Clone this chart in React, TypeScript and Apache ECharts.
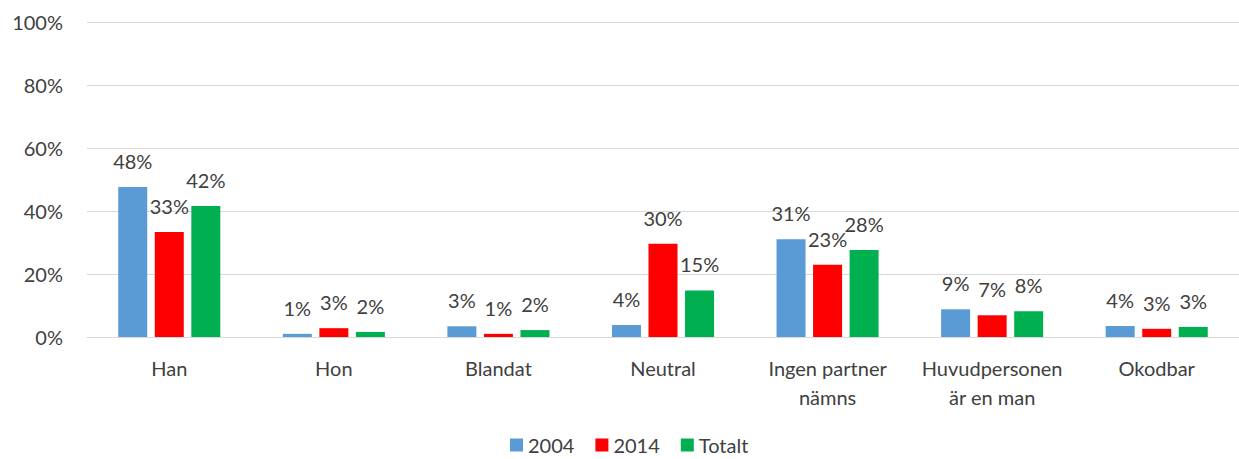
import React, { useEffect, useRef } from "react";
import * as echarts from "echarts";

const categories = [
  "Han",
  "Hon",
  "Blandat",
  "Neutral",
  "Ingen partner\nnämns",
  "Huvudpersonen\när en man",
  "Okodbar",
];
const values2004 = [47.6, 1.0, 3.4, 3.8, 31.0, 8.8, 3.5];
const values2014 = [33.3, 2.8, 1.0, 29.6, 22.9, 6.9, 2.6];
const valuesTotalt = [41.6, 1.6, 2.2, 14.8, 27.6, 8.2, 3.2];
const seriesNames = ["2004", "2014", "Totalt"];
const seriesColors = ["#5B9BD5", "#FF0000", "#00B050"];

const FONT = "Lato";
const TEXT = "#404040";

export default function App() {
  const ref = useRef<HTMLDivElement>(null);
  useEffect(() => {
    if (!ref.current) return;
    const chart = echarts.init(ref.current, null, { renderer: "svg" });
    const data = [values2004, values2014, valuesTotalt];
    chart.setOption({
      animation: false,
      backgroundColor: "#ffffff",
      textStyle: { fontFamily: FONT },
      grid: { left: 87, top: 22, width: 1155, height: 315, containLabel: false },
      legend: {
        left: 510,
        top: 434,
        padding: 0,
        itemWidth: 13,
        itemHeight: 13,
        itemGap: 21,
        icon: "rect",
        textStyle: { fontFamily: FONT, fontSize: 20, color: TEXT, lineHeight: 22 },
        data: seriesNames,
      },
      xAxis: {
        type: "category",
        data: categories,
        axisLine: { lineStyle: { color: "#D9D9D9", width: 1 } },
        axisTick: { show: false },
        axisLabel: {
          fontFamily: FONT,
          fontSize: 20,
          color: TEXT,
          margin: 16,
          lineHeight: 29,
          interval: 0,
        },
      },
      yAxis: {
        type: "value",
        min: 0,
        max: 100,
        interval: 20,
        axisLine: { show: false },
        axisTick: { show: false },
        splitLine: { lineStyle: { color: "#D9D9D9", width: 1 } },
        axisLabel: {
          fontFamily: FONT,
          fontSize: 20,
          color: TEXT,
          margin: 24,
          formatter: (v: number) => `${v}%`,
        },
      },
      series: seriesNames.map((name, i) => ({
        name,
        type: "bar",
        data: data[i],
        barWidth: 29,
        barGap: "26%",
        itemStyle: { color: seriesColors[i] },
        label: {
          show: true,
          position: "top",
          distance: 16,
          fontFamily: FONT,
          fontSize: 20,
          color: TEXT,
          formatter: (p: any) => `${Math.round(p.value)}%`,
        },
      })),
    });
    return () => chart.dispose();
  }, []);
  return (
    <div
      ref={ref}
      style={{ position: "fixed", left: 0, top: 0, width: 1239, height: 459, background: "#fff" }}
    />
  );
}
